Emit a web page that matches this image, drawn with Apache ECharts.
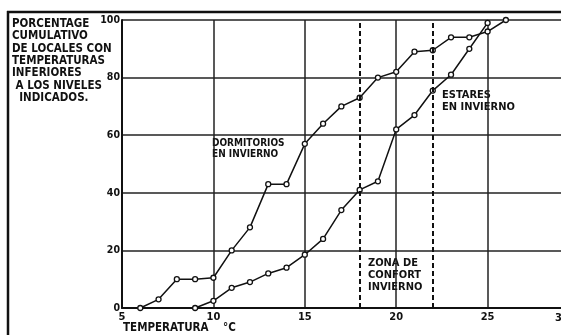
<!DOCTYPE html>
<html><head><meta charset="utf-8">
<script src="https://cdn.jsdelivr.net/npm/echarts@6/dist/echarts.min.js"></script>
<style>html,body{margin:0;padding:0;background:#fff;overflow:hidden;width:561px;height:335px}#c{width:588px;height:335px}</style>
</head><body><div id="c"></div>
<script>
// Data
const dormTemps = [6, 7, 8, 9, 10, 11, 12, 13, 14, 15, 16, 17, 18, 19, 20, 21, 22, 23, 24, 25, 26];
const dormPct   = [0, 3, 10, 10, 10.5, 20, 28, 43, 43, 57, 64, 70, 73, 80, 82, 89, 89.5, 94, 94, 96, 100];
const estTemps  = [9, 10, 11, 12, 13, 14, 15, 16, 17, 18, 19, 20, 21, 22, 23, 24, 25];
const estPct    = [0, 2.5, 7, 9, 12, 14, 18.5, 24, 34, 41, 44, 62, 67, 75.5, 81, 90, 99];
const comfortBounds = [18, 22];
const xTicks = [5, 10, 15, 20, 25, 30];
const yTicks = [0, 20, 40, 60, 80, 100];
const titleLines = ['PORCENTAGE', 'CUMULATIVO', 'DE LOCALES CON', 'TEMPERATURAS', 'INFERIORES', ' A LOS NIVELES', '  INDICADOS.'];

const FONT = '"Liberation Sans Narrow", "DejaVu Sans Condensed", sans-serif';
const chart = echarts.init(document.getElementById('c'), null, {renderer: 'canvas', width: 588, height: 335});
const lineStyle = {color: '#111', width: 1.5};
const itemStyle = {color: '#fff', borderColor: '#111', borderWidth: 1.3};
const txt = (x, y, text, size, lh) => ({type: 'text', left: x, top: y, style: {text, fill: '#111', font: 'bold ' + size + 'px ' + FONT, lineHeight: lh}});

chart.setOption({
  animation: false,
  backgroundColor: '#fff',
  grid: {left: 122, top: 20, right: 9, bottom: 27, containLabel: false},
  xAxis: {
    type: 'value', min: xTicks[0], max: xTicks[xTicks.length - 1], interval: 5,
    axisLine: {show: true, lineStyle: {color: '#111', width: 2}},
    axisTick: {show: false},
    axisLabel: {color: '#111', fontFamily: FONT, fontWeight: 'bold', fontSize: 11, margin: 4, showMaxLabel: false},
    splitLine: {show: true, lineStyle: {color: '#222', width: 1.5}}
  },
  yAxis: {
    type: 'value', min: yTicks[0], max: yTicks[yTicks.length - 1], interval: 20,
    axisLine: {show: true, lineStyle: {color: '#111', width: 2}},
    axisTick: {show: false},
    axisLabel: {color: '#111', fontFamily: FONT, fontWeight: 'bold', fontSize: 10.5, margin: 2},
    splitLine: {show: true, lineStyle: {color: '#222', width: 1.5}}
  },
  series: [
    {
      name: 'Dormitorios en invierno', type: 'line',
      data: dormTemps.map((t, i) => [t, dormPct[i]]),
      symbol: 'circle', symbolSize: 5, lineStyle, itemStyle,
      markLine: {
        silent: true, symbol: 'none', label: {show: false},
        lineStyle: {color: '#111', width: 2, type: [5, 3]},
        data: comfortBounds.map(v => ({xAxis: v}))
      }
    },
    {
      name: 'Estares en invierno', type: 'line',
      data: estTemps.map((t, i) => [t, estPct[i]]),
      symbol: 'circle', symbolSize: 5, lineStyle, itemStyle
    }
  ],
  graphic: [
    {type: 'line', shape: {x1: 7, y1: 12, x2: 588, y2: 12}, style: {stroke: '#111', lineWidth: 2.5}},
    {type: 'line', shape: {x1: 8, y1: 11, x2: 8, y2: 335}, style: {stroke: '#111', lineWidth: 2.5}},
    txt(12, 18, titleLines.join('\n'), 11.5, 12.3),
    txt(212, 138, 'DORMITORIOS\nEN INVIERNO', 10, 11),
    txt(442, 89, 'ESTARES\nEN INVIERNO', 11, 12),
    txt(368, 257, 'ZONA DE\nCONFORT\nINVIERNO', 11, 12),
    txt(123, 322, 'TEMPERATURA    °C', 11.5, 12),
    txt(555, 312, String(xTicks[xTicks.length - 1]), 11, 12)
  ]
});
</script></body></html>
